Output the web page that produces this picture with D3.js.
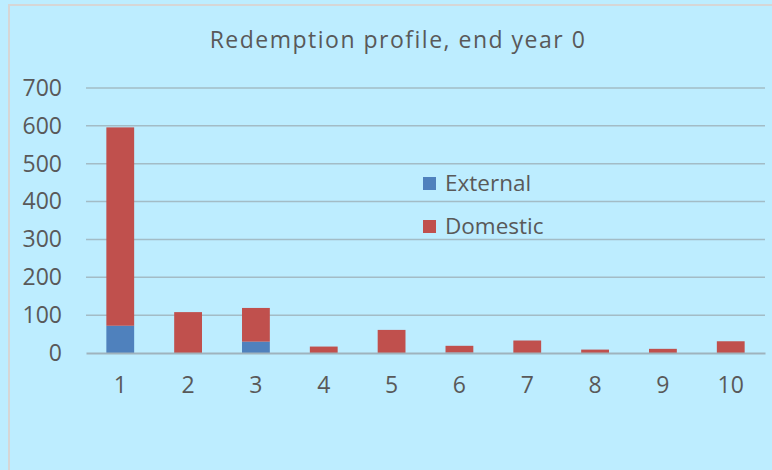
<!DOCTYPE html>
<html>
<head>
<meta charset="utf-8">
<script src="https://cdn.jsdelivr.net/npm/d3@7"></script>
<style>
  body { margin: 0; background: #bdedff; }
  text { font-family: "Open Sans", sans-serif; fill: #595959; }
</style>
</head>
<body>
<div id="chart"></div>
<script>
// data
var years = ['1', '2', '3', '4', '5', '6', '7', '8', '9', '10'];
var external = [72, 0, 30, 0, 0, 1, 0, 0, 0, 0];
var domestic = [524, 108, 89, 17, 61, 18, 33, 9, 11, 31];
var seriesNames = ['External', 'Domestic'];
var yTicks = [0, 100, 200, 300, 400, 500, 600, 700];

var svgWidth = 772;
var svgHeight = 470;

var margin = {
    top: 88,
    right: 7,
    bottom: 117,
    left: 86
};

var width = svgWidth - margin.left - margin.right;
var height = svgHeight - margin.top - margin.bottom;

var colors = {External: '#4f81bd', Domestic: '#c0504d'};

var svg = d3.select('#chart')
    .append('svg')
    .attr('width', svgWidth)
    .attr('height', svgHeight);

svg.append('rect')
    .attr('width', svgWidth)
    .attr('height', svgHeight)
    .attr('fill', '#bdedff');

// chart border (only left and top are inside the picture)
svg.append('path')
    .attr('d', 'M9,470 V5 H772')
    .attr('fill', 'none')
    .attr('stroke', '#d6d6d6')
    .attr('stroke-width', 2);

svg.append('text')
    .attr('x', 398)
    .attr('y', 48)
    .attr('text-anchor', 'middle')
    .attr('font-size', '23px')
    .attr('letter-spacing', '1.5px')
    .text('Redemption profile, end year 0');

var chartGroup = svg.append('g')
    .attr('transform', `translate(${margin.left}, ${margin.top})`);

var table = years.map(function(y, i) {
    return {year: y, External: external[i], Domestic: domestic[i]};
});
var stacked = d3.stack().keys(seriesNames)(table);

var xScale = d3.scaleBand()
    .domain(years)
    .range([0, width])
    .paddingInner(0.59)
    .paddingOuter(0.3);

var yScale = d3.scaleLinear()
    .domain([0, 700])
    .range([height, 0]);

// gridlines
chartGroup.append('g')
    .selectAll('line')
    .data(yTicks.filter(d => d > 0))
    .enter()
    .append('line')
    .attr('x1', 0)
    .attr('x2', width)
    .attr('y1', d => yScale(d))
    .attr('y2', d => yScale(d))
    .attr('stroke', '#a3bcc6')
    .attr('stroke-width', 1.5);

var leftAxis = d3.axisLeft(yScale)
    .tickValues(yTicks)
    .tickSize(0)
    .tickPadding(24);

var yAxis = chartGroup.append('g').call(leftAxis);
yAxis.select('.domain').remove();
yAxis.selectAll('text')
    .attr('font-size', '23px')
    .attr('fill', '#595959')
    .attr('font-family', '"Open Sans", sans-serif');

chartGroup.selectAll('g.series')
    .data(stacked)
    .enter()
    .append('g')
    .attr('class', 'series')
    .attr('fill', d => colors[d.key])
    .selectAll('rect')
    .data(d => d)
    .enter()
    .append('rect')
    .attr('x', d => xScale(d.data.year))
    .attr('y', d => yScale(d[1]))
    .attr('width', xScale.bandwidth())
    .attr('height', d => yScale(d[0]) - yScale(d[1]));

var bottomAxis = d3.axisBottom(xScale)
    .tickSize(0)
    .tickPadding(24);

var xAxis = chartGroup.append('g')
    .attr('transform', `translate(0, ${height})`)
    .call(bottomAxis);
xAxis.select('.domain')
    .attr('stroke', '#9fb3bd')
    .attr('stroke-width', 2);
xAxis.selectAll('text')
    .attr('font-size', '23px')
    .attr('fill', '#595959')
    .attr('font-family', '"Open Sans", sans-serif');

// legend
var legend = svg.append('g')
    .selectAll('g')
    .data(seriesNames)
    .enter()
    .append('g')
    .attr('transform', (d, i) => `translate(423, ${177 + i * 43})`);

legend.append('rect')
    .attr('width', 13)
    .attr('height', 13)
    .attr('fill', d => colors[d]);

legend.append('text')
    .attr('x', 22)
    .attr('y', 14)
    .attr('font-size', '22.5px')
    .text(d => d);
</script>
</body>
</html>
